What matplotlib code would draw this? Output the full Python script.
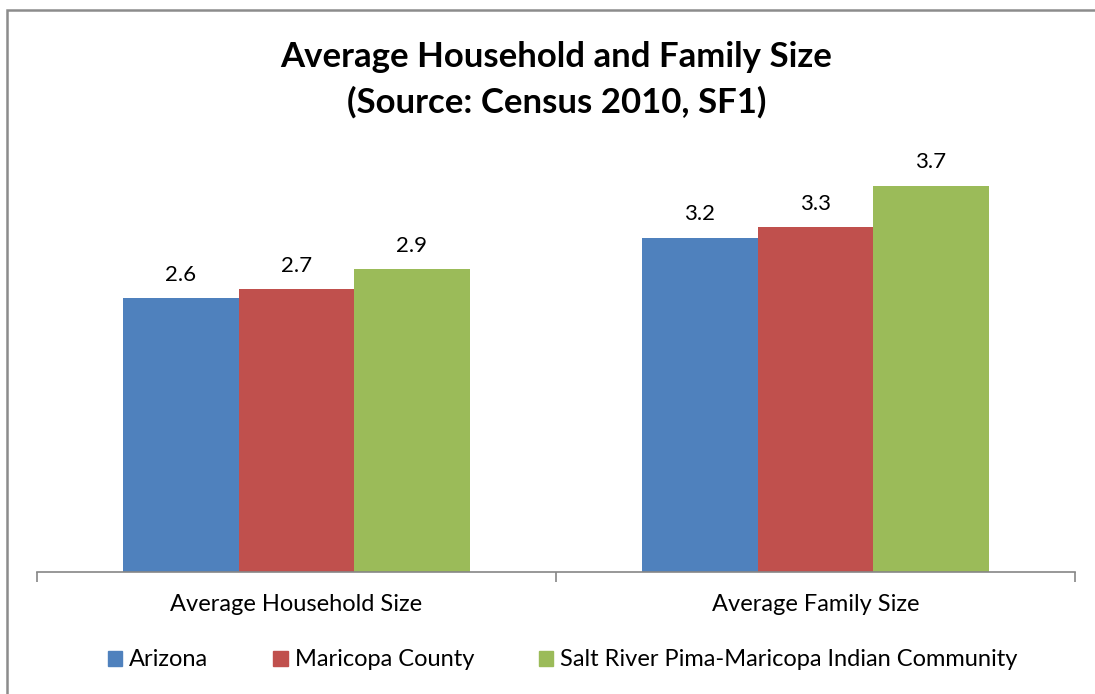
import matplotlib
matplotlib.use('Agg')
import matplotlib.pyplot as plt
from matplotlib.patches import Rectangle, Patch
import numpy as np

# values
categories = ['Average Household Size', 'Average Family Size']
series_names = ['Arizona', 'Maricopa County',
                'Salt River Pima-Maricopa Indian Community']
arizona = [2.62, 3.20]
maricopa = [2.71, 3.30]
salt_river = [2.90, 3.70]
colors = ['#4F81BD', '#C0504D', '#9BBB59']

plt.rcParams['font.family'] = ['Lato', 'DejaVu Sans']

fig = plt.figure(figsize=(10.95, 6.94), dpi=100)
ax = fig.add_axes([0.0338, 0.1758, 0.9479, 0.6017])

# outer chart border (right and bottom edges are cut off in the reference)
fig.patches.append(Rectangle((7 / 1095, -0.1), 1.2, 0.1 + (694 - 10) / 694,
                             transform=fig.transFigure, fill=False,
                             edgecolor='#8C8C8C', linewidth=1.8))

x = np.arange(len(categories)) + 0.5
width = 0.2225
for i, (vals, name) in enumerate(zip([arizona, maricopa, salt_river], series_names)):
    bars = ax.bar(x + (i - 1) * width, vals, width, color=colors[i], label=name)
    for b, v in zip(bars, vals):
        ax.text(b.get_x() + b.get_width() / 2, v + 0.13, f'{v:.1f}',
                ha='center', va='bottom', fontsize=16)

ax.set_xlim(0, 2)
ax.set_ylim(0, 4)
ax.set_yticks([])
for s in ['top', 'right', 'left']:
    ax.spines[s].set_visible(False)
ax.spines['bottom'].set_color('#868686')
ax.spines['bottom'].set_linewidth(1.2)

ax.set_xticks([0, 1, 2])
ax.set_xticklabels([])
ax.tick_params(axis='x', which='major', length=7, width=1.2, color='#868686',
               direction='out')
ax.set_xticks(x, minor=True)
ax.set_xticklabels(categories, minor=True, fontsize=17)
ax.tick_params(axis='x', which='minor', length=0, pad=16)

fig.text(0.508, 0.918, 'Average Household and Family Size',
         ha='center', va='center', fontsize=25, fontweight='bold')
fig.text(0.508, 0.852, '(Source: Census 2010, SF1)',
         ha='center', va='center', fontsize=25, fontweight='bold')

handles = [Patch(color=c) for c in colors]
fig.legend(handles, series_names, loc='center', bbox_to_anchor=(0.514, 0.049),
           ncol=3, frameon=False, fontsize=17, handlelength=0.6, handleheight=0.6,
           handletextpad=0.3, columnspacing=2.75)

fig.savefig('out.png', dpi=100)
